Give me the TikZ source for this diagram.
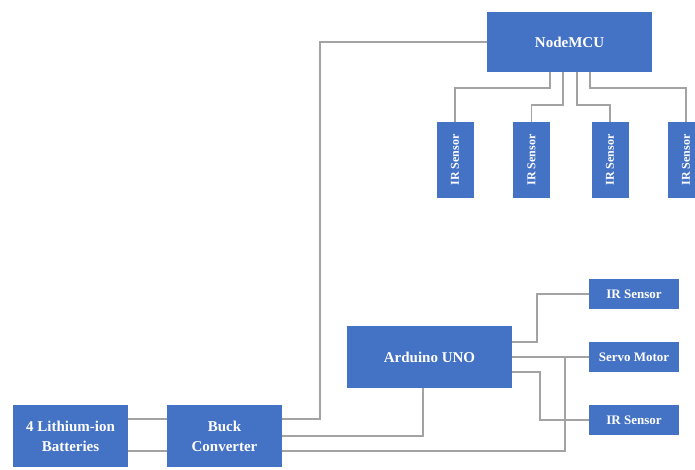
\documentclass[tikz,border=0pt]{standalone}
\usepackage{fontspec}
\setmainfont{Liberation Serif}
\definecolor{blk}{HTML}{4472C4}
\definecolor{wire}{HTML}{A3A3A3}
\begin{document}
\begin{tikzpicture}[x=1pt,y=-1pt,
  box/.style={fill=blk,draw=none,text=white,inner sep=0pt,align=center,font=\bfseries\fontsize{15}{20}\selectfont},
  small/.style={box,minimum width=90pt,minimum height=30pt,font=\bfseries\fontsize{13}{15}\selectfont},
  vsens/.style={box,minimum width=37pt,minimum height=76pt,font=\bfseries\fontsize{12}{14}\selectfont},
  wireline/.style={draw=wire,line width=1.8pt}]
\useasboundingbox (0,0) rectangle (695,470);
\fill[white] (0,0) rectangle (695,470);
% nodes
\node[box,minimum width=165pt,minimum height=60pt] (mcu) at (569.5,42) {NodeMCU};
\node[vsens] (ir1) at (455,160) {\rotatebox{90}{IR Sensor}};
\node[vsens] (ir2) at (531.5,160) {\rotatebox{90}{IR Sensor}};
\node[vsens] (ir3) at (610,160) {\rotatebox{90}{IR Sensor}};
\node[vsens] (ir4) at (686,160) {\rotatebox{90}{IR Sensor}};
\node[box,minimum width=165pt,minimum height=62pt] (uno) at (429.5,357) {Arduino UNO};
\node[small] (ira) at (634,294) {IR Sensor};
\node[small] (servo) at (634,357) {Servo Motor};
\node[small] (irb) at (634,420) {IR Sensor};
\node[box,minimum width=115pt,minimum height=62pt] (bat) at (70.5,436) {4 Lithium-ion\\Batteries};
\node[box,minimum width=115pt,minimum height=62pt] (buck) at (224.5,436) {Buck\\Converter};
% connectors
\draw[wireline] ([xshift=-19.5pt]mcu.south) -- ++(0,16) -| (ir1.north);
\draw[wireline] ([xshift=-6.5pt]mcu.south) -- ++(0,33) -| (ir2.north);
\draw[wireline] ([xshift=7.5pt]mcu.south) -- ++(0,33) -| (ir3.north);
\draw[wireline] ([xshift=20.5pt]mcu.south) -- ++(0,16) -| (ir4.north);
\draw[wireline] (mcu.west) -| ([xshift=38pt,yshift=17pt]buck.east) -- ([yshift=17pt]buck.east);
\draw[wireline] ([xshift=-6.5pt]uno.south) |- (buck.east);
\draw[wireline] ([yshift=-15pt]buck.east) -| ([xshift=-24pt]servo.west) -- (servo.west);
\draw[wireline] (uno.east) -- (servo.west);
\draw[wireline] ([yshift=15pt]uno.east) -- ++(25,0) |- (ira.west);
\draw[wireline] ([yshift=-15pt]uno.east) -- ++(28,0) |- (irb.west);
\draw[wireline] ([yshift=17pt]bat.east) -- ([yshift=17pt]buck.west);
\draw[wireline] ([yshift=-15pt]bat.east) -- ([yshift=-15pt]buck.west);
\end{tikzpicture}
\end{document}
